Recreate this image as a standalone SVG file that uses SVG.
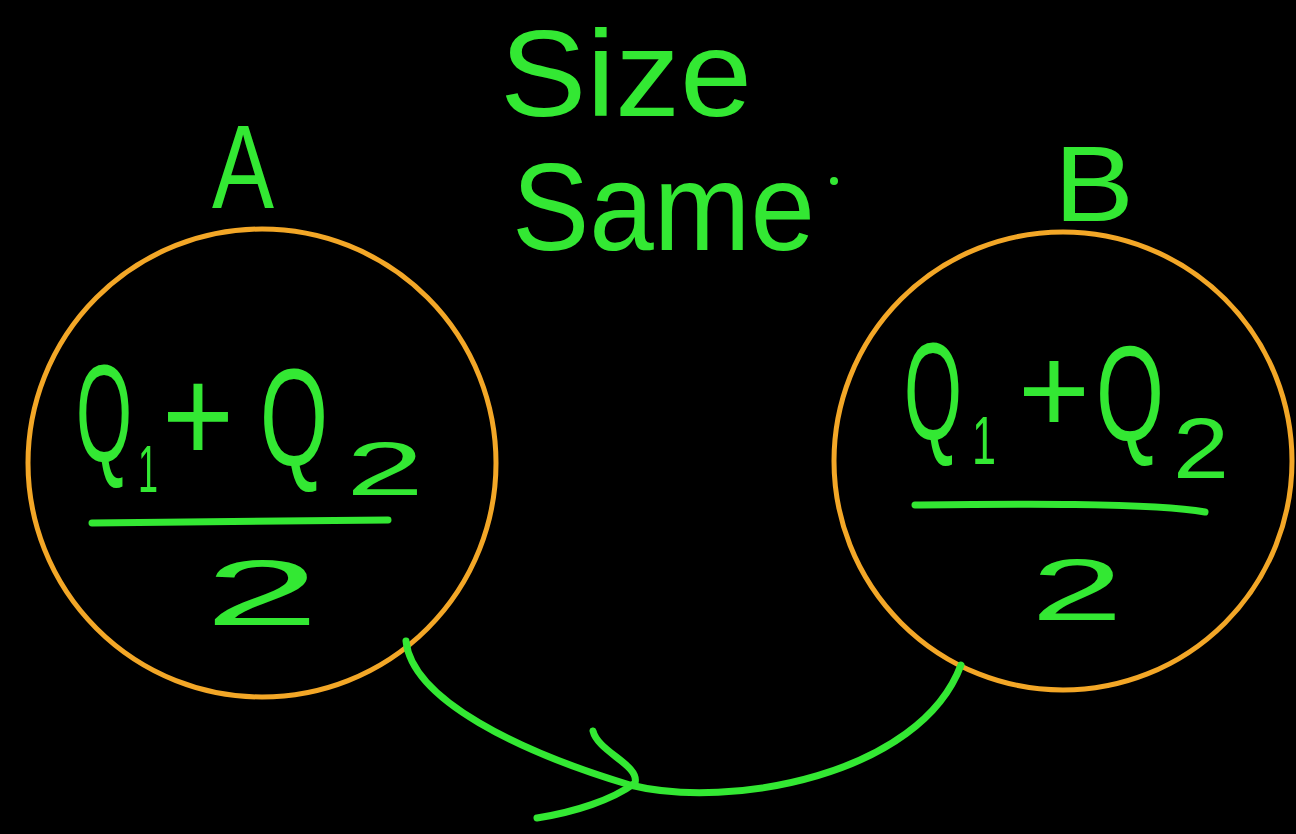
<svg xmlns="http://www.w3.org/2000/svg" width="1296" height="834" viewBox="0 0 1296 834">
<style>
.t{font-family:"Liberation Sans","DejaVu Sans",sans-serif;fill:#33e833;}
.ring{fill:none;stroke:#f3a727;stroke-width:5;}
.ln{fill:none;stroke:#33e833;stroke-width:7;stroke-linecap:round;stroke-linejoin:round;}
</style>
<rect width="1296" height="834" fill="#000"/>
<g id="title">
<text class="t" x="500" y="116" font-size="122" textLength="252" lengthAdjust="spacingAndGlyphs">Size</text>
<text class="t" x="512" y="250" font-size="125" textLength="303" lengthAdjust="spacingAndGlyphs">Same</text>
<circle cx="834" cy="181" r="4" fill="#33e833"/>
</g>
<g id="nodeA">
<circle class="ring" cx="262" cy="463" r="234"/>
<text class="t" x="243" y="208" font-size="118" text-anchor="middle" textLength="62" lengthAdjust="spacingAndGlyphs">A</text>
<text class="t" y="462"><tspan x="76" font-size="140" textLength="56" lengthAdjust="spacingAndGlyphs">Q</tspan><tspan x="138" dy="30" font-size="66" textLength="20" lengthAdjust="spacingAndGlyphs">1</tspan><tspan x="162" dy="-30" font-size="135" textLength="72" lengthAdjust="spacingAndGlyphs">+</tspan><tspan x="260" dy="4" font-size="140" textLength="68" lengthAdjust="spacingAndGlyphs">Q</tspan><tspan x="346" dy="29" font-size="76" textLength="78" lengthAdjust="spacingAndGlyphs">2</tspan></text>
<path class="ln" d="M92,523 L388,520"/>
<text class="t" x="262" y="625" font-size="92" text-anchor="middle" textLength="115" lengthAdjust="spacingAndGlyphs">2</text>
</g>
<g id="nodeB">
<circle class="ring" cx="1063" cy="461" r="229"/>
<text class="t" x="1094" y="221" font-size="108" text-anchor="middle" textLength="80" lengthAdjust="spacingAndGlyphs">B</text>
<text class="t" y="440"><tspan x="904" font-size="140" textLength="58" lengthAdjust="spacingAndGlyphs">Q</tspan><tspan x="972" dy="24" font-size="68" textLength="24" lengthAdjust="spacingAndGlyphs">1</tspan><tspan x="1018" dy="-31" font-size="125" textLength="72" lengthAdjust="spacingAndGlyphs">+</tspan><tspan x="1096" dy="7" font-size="135" textLength="68" lengthAdjust="spacingAndGlyphs">Q</tspan><tspan x="1173" dy="38" font-size="86" textLength="56" lengthAdjust="spacingAndGlyphs">2</tspan></text>
<path class="ln" d="M915,505 C1000,504 1150,502 1205,512"/>
<text class="t" x="1077" y="620" font-size="88" text-anchor="middle" textLength="92" lengthAdjust="spacingAndGlyphs">2</text>
</g>
<g id="connectors">
<path class="ln" d="M406,641 C412,700 520,752 630,785 C730,810 920,775 961,665"/>
<path class="ln" d="M593,731 C598,752 640,765 635,783 C612,800 575,812 537,818"/>
</g>
</svg>
